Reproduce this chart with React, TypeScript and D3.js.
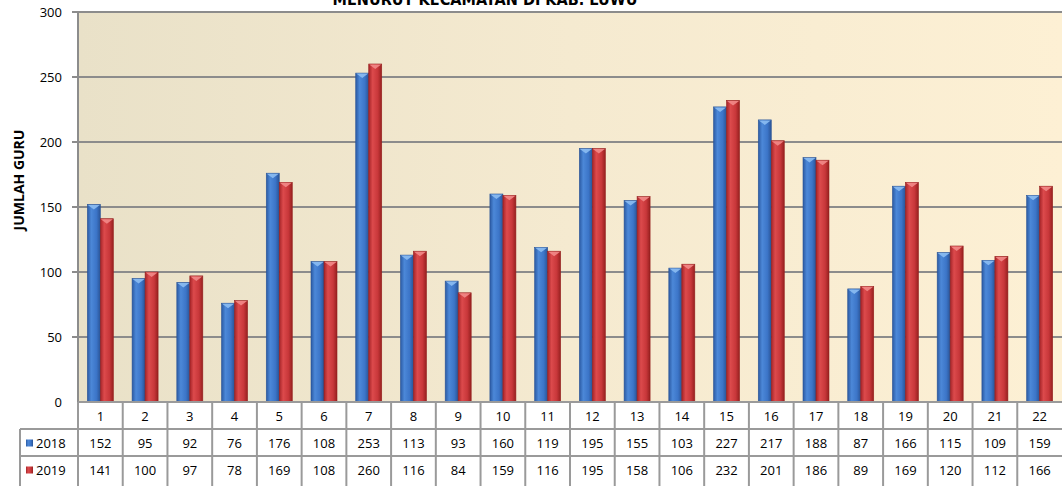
import { useEffect, useRef } from 'react';
import * as d3 from 'd3';

const categories = ['1', '2', '3', '4', '5', '6', '7', '8', '9', '10', '11', '12', '13', '14', '15', '16', '17', '18', '19', '20', '21', '22'];
const seriesNames = ['2018', '2019'];
const values2018 = [152, 95, 92, 76, 176, 108, 253, 113, 93, 160, 119, 195, 155, 103, 227, 217, 188, 87, 166, 115, 109, 159];
const values2019 = [141, 100, 97, 78, 169, 108, 260, 116, 84, 159, 116, 195, 158, 106, 232, 201, 186, 89, 169, 120, 112, 166];
const yTicks = [0, 50, 100, 150, 200, 250, 300];

const W = 1062;
const H = 486;

export default function App() {
  const svgRef = useRef<SVGSVGElement>(null);

  useEffect(() => {
    if (!svgRef.current) return;
    const svg = d3.select(svgRef.current);
    svg.selectAll('*').remove();

    const left = 78;
    const right = 1062;
    const top = 12;
    const bottom = 402;
    const rowH = 27;
    const font = "'Open Sans', 'Liberation Sans', sans-serif";
    const gridColor = '#8c8c8c';

    const defs = svg.append('defs');
    const bg = defs.append('linearGradient').attr('id', 'bg').attr('x1', '0').attr('x2', '1').attr('y1', '0').attr('y2', '0');
    bg.append('stop').attr('offset', '0%').attr('stop-color', '#e9e1c8');
    bg.append('stop').attr('offset', '50%').attr('stop-color', '#f5ead0');
    bg.append('stop').attr('offset', '100%').attr('stop-color', '#fdf0d4');

    const barColors: Record<string, string[]> = {
      '2018': ['#2b5aa3', '#4c88d8', '#3c75c8', '#2a5496'],
      '2019': ['#a52428', '#dc4a4c', '#c8373a', '#96201f'],
    };
    const capColors: Record<string, string> = { '2018': '#8cbcf2', '2019': '#f28a88' };
    seriesNames.forEach(s => {
      const g = defs.append('linearGradient').attr('id', `bar${s}`).attr('x1', '0').attr('x2', '1').attr('y1', '0').attr('y2', '0');
      const c = barColors[s];
      [0, 30, 70, 100].forEach((o, i) => g.append('stop').attr('offset', `${o}%`).attr('stop-color', c[i]));
    });

    const x = d3.scaleBand().domain(categories).range([left, right]).paddingInner(0).paddingOuter(0);
    const xs = d3.scaleBand().domain(seriesNames).range([0, 26]);
    const y = d3.scaleLinear().domain([0, 300]).range([bottom, top]);
    const pad = (x.bandwidth() - 26) / 2;

    // plot background
    svg.append('rect')
      .attr('x', left).attr('y', top)
      .attr('width', right - left).attr('height', bottom - top)
      .attr('fill', 'url(#bg)');

    // gridlines
    svg.append('g')
      .selectAll('line')
      .data(yTicks.filter(t => t > 0))
      .join('line')
      .attr('x1', left - 6).attr('x2', right)
      .attr('y1', d => y(d)).attr('y2', d => y(d))
      .attr('stroke', gridColor).attr('stroke-width', 2);

    // left border
    svg.append('line')
      .attr('x1', left).attr('x2', left).attr('y1', top).attr('y2', bottom)
      .attr('stroke', gridColor).attr('stroke-width', 2);

    // y tick labels
    svg.append('g')
      .selectAll('text')
      .data(yTicks)
      .join('text')
      .attr('x', 62).attr('y', d => y(d))
      .attr('dy', '0.35em')
      .attr('text-anchor', 'end')
      .style('font-family', font).style('font-size', '13px').style('fill', '#000')
      .text(d => d);

    // y axis title
    svg.append('text')
      .attr('transform', `translate(24,${(top + bottom) / 2 - 27}) rotate(-90)`)
      .attr('text-anchor', 'middle')
      .style('font-family', font).style('font-size', '14px').style('font-weight', 'bold')
      .text('JUMLAH GURU');

    // chart title (cut off at top)
    svg.append('text')
      .attr('x', 485).attr('y', 5)
      .attr('text-anchor', 'middle')
      .attr('textLength', 305).attr('lengthAdjust', 'spacingAndGlyphs')
      .style('font-family', "'DejaVu Sans Condensed', 'DejaVu Sans', sans-serif")
      .style('font-size', '16px').style('font-weight', 'bold')
      .text('MENURUT KECAMATAN DI KAB. LUWU');

    // bars
    const series = [
      { name: '2018', values: values2018 },
      { name: '2019', values: values2019 },
    ];
    series.forEach(s => {
      const gs = svg.append('g');
      const bx = (i: number) => (x(categories[i]) ?? 0) + pad + (xs(s.name) ?? 0);
      const bw = xs.bandwidth();
      gs.selectAll('rect')
        .data(s.values)
        .join('rect')
        .attr('x', (_d, i) => bx(i))
        .attr('y', d => y(d))
        .attr('width', bw)
        .attr('height', d => bottom - y(d))
        .attr('fill', `url(#bar${s.name})`)
        .attr('stroke', barColors[s.name][3])
        .attr('stroke-width', 0.6);
      gs.selectAll('path')
        .data(s.values)
        .join('path')
        .attr('d', (d, i) => {
          const x0 = bx(i);
          const y0 = y(d);
          return `M${x0 + 0.5},${y0 + 0.5}L${x0 + bw - 0.5},${y0 + 0.5}L${x0 + bw / 2},${y0 + 5}Z`;
        })
        .attr('fill', capColors[s.name])
        .attr('opacity', 0.9);
    });

    // data table
    const table = svg.append('g');
    const tableLine = '#9a9a9a';
    const rowsTop = [bottom, bottom + rowH, bottom + rowH * 2];
    // horizontal lines
    table.append('line').attr('x1', left).attr('x2', right).attr('y1', bottom).attr('y2', bottom)
      .attr('stroke', tableLine).attr('stroke-width', 2);
    [rowsTop[1], rowsTop[2]].forEach(ry => {
      table.append('line').attr('x1', 20).attr('x2', right).attr('y1', ry).attr('y2', ry)
        .attr('stroke', tableLine).attr('stroke-width', 2);
    });
    // vertical lines
    table.selectAll('line.v')
      .data(categories)
      .join('line')
      .attr('class', 'v')
      .attr('x1', d => x(d) ?? 0).attr('x2', d => x(d) ?? 0)
      .attr('y1', bottom).attr('y2', H)
      .attr('stroke', tableLine).attr('stroke-width', 2);
    table.append('line').attr('x1', 20).attr('x2', 20).attr('y1', rowsTop[1]).attr('y2', H)
      .attr('stroke', tableLine).attr('stroke-width', 2);

    const cellText = (row: number, data: (string | number)[]) => {
      table.append('g')
        .selectAll('text')
        .data(data)
        .join('text')
        .attr('x', (_d, i) => (x(categories[i]) ?? 0) + x.bandwidth() / 2)
        .attr('y', rowsTop[row] + rowH / 2 + 1)
        .attr('dy', '0.35em')
        .attr('text-anchor', 'middle')
        .style('font-family', font).style('font-size', '13px').style('fill', '#000')
        .text(d => d);
    };
    cellText(0, categories);
    cellText(1, values2018);
    cellText(2, values2019);

    // legend keys in table
    series.forEach((s, i) => {
      const ry = rowsTop[i + 1] + rowH / 2 + 1;
      table.append('rect')
        .attr('x', 26).attr('y', ry - 4)
        .attr('width', 7).attr('height', 7)
        .attr('fill', `url(#bar${s.name})`);
      table.append('text')
        .attr('x', 36).attr('y', ry)
        .attr('dy', '0.35em')
        .style('font-family', font).style('font-size', '13px')
        .text(s.name);
    });
  }, []);

  return (
    <div style={{ position: 'fixed', left: 0, top: 0, width: W, height: H, background: '#fff' }}>
      <svg ref={svgRef} width={W} height={H} style={{ display: 'block' }}></svg>
    </div>
  );
}
